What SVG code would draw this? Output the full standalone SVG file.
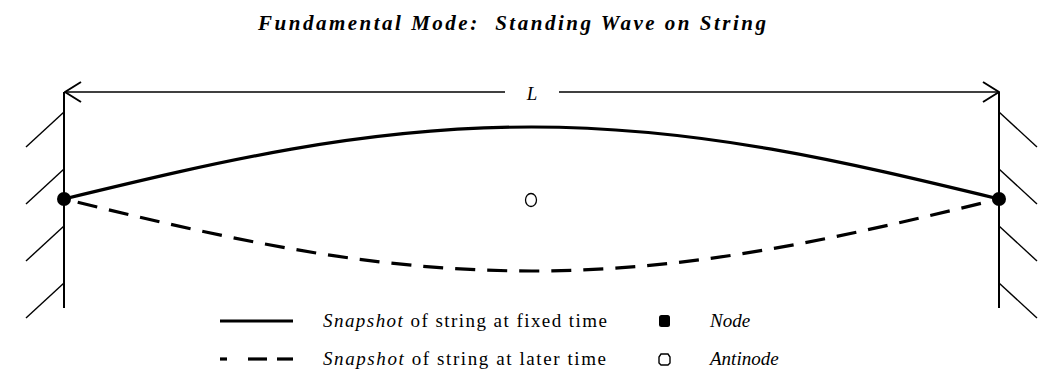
<svg xmlns="http://www.w3.org/2000/svg" width="1048" height="374" viewBox="0 0 1048 374">
<style>
.wall{stroke:#000;stroke-width:2;fill:none}
.hatch{stroke:#000;stroke-width:1.4;fill:none}
.dim{stroke:#000;stroke-width:1.5;fill:none}
.solid{stroke:#000;stroke-width:3.2;fill:none}
.dashed{stroke:#000;stroke-width:3.2;fill:none;stroke-dasharray:20 12}
.txt{font-family:"Liberation Serif","Times New Roman",serif;font-size:19px;fill:#000}
.it{font-style:italic}
.title{font-family:"Liberation Serif","Times New Roman",serif;font-size:21px;font-weight:bold;font-style:italic;fill:#000}
</style>
<defs>
<marker id="arr" viewBox="0 0 20 24" refX="19" refY="12" markerWidth="20" markerHeight="24" markerUnits="userSpaceOnUse" orient="auto">
<path d="M3,2 L19,12 L3,22" fill="none" stroke="#000" stroke-width="2"/>
</marker>
</defs>
<rect width="1048" height="374" fill="#fff"/>
<text class="title" x="512" y="30" text-anchor="middle" textLength="508" xml:space="preserve">Fundamental Mode:  Standing Wave on String</text>

<g id="left-wall">
<line class="wall" x1="64" y1="92" x2="64" y2="308"/>
<line class="hatch" x1="64" y1="112" x2="26" y2="147"/>
<line class="hatch" x1="64" y1="169" x2="26" y2="204"/>
<line class="hatch" x1="64" y1="226" x2="26" y2="261"/>
<line class="hatch" x1="64" y1="283" x2="26" y2="318"/>
</g>
<g id="right-wall">
<line class="wall" x1="999" y1="92" x2="999" y2="308"/>
<line class="hatch" x1="999" y1="112" x2="1037" y2="147"/>
<line class="hatch" x1="999" y1="169" x2="1037" y2="204"/>
<line class="hatch" x1="999" y1="226" x2="1037" y2="261"/>
<line class="hatch" x1="999" y1="283" x2="1037" y2="318"/>
</g>

<g id="connectors">
<line class="dim" x1="505" y1="92" x2="65" y2="92" marker-end="url(#arr)"/>
<line class="dim" x1="559" y1="92" x2="999" y2="92" marker-end="url(#arr)"/>
<path class="solid" d="M64,199 C216.5,162.1 362.3,127 531.5,127 C700.7,127 846.5,162.1 999,199"/>
<path class="dashed" d="M64,199 C216.5,235.9 362.3,271 531.5,271 C700.7,271 846.5,235.9 999,199" stroke-dashoffset="-14"/>
</g>
<text class="txt it" x="532" y="100" text-anchor="middle" font-size="21">L</text>

<g id="node-left"><circle cx="64" cy="199" r="7" fill="#000"/></g>
<g id="node-right"><circle cx="999" cy="199" r="7" fill="#000"/></g>
<g id="antinode"><ellipse cx="531" cy="200" rx="5.5" ry="6.5" fill="none" stroke="#000" stroke-width="1.3"/></g>

<g id="legend">
<line class="solid" x1="220" y1="321" x2="293" y2="321" stroke-width="3"/>
<line class="solid" x1="220" y1="359" x2="227" y2="359" stroke-width="3"/>
<line class="solid" x1="248" y1="359" x2="267" y2="359" stroke-width="3"/>
<line class="solid" x1="277" y1="359" x2="293" y2="359" stroke-width="3"/>
<text class="txt" x="323" y="327" textLength="284"><tspan class="it">Snapshot</tspan> of string at fixed time</text>
<text class="txt" x="323" y="365" textLength="283"><tspan class="it">Snapshot</tspan> of string at later time</text>
<rect x="659" y="315" width="11" height="12" rx="2.5" fill="#000"/>
<path d="M661,354 L668,354 L670,357 L670,363 L668,365 L661,365 L659,363 L659,357 Z" fill="none" stroke="#000" stroke-width="1.4"/>
<text class="txt it" x="710" y="327">Node</text>
<text class="txt it" x="710" y="365">Antinode</text>
</g>
</svg>
